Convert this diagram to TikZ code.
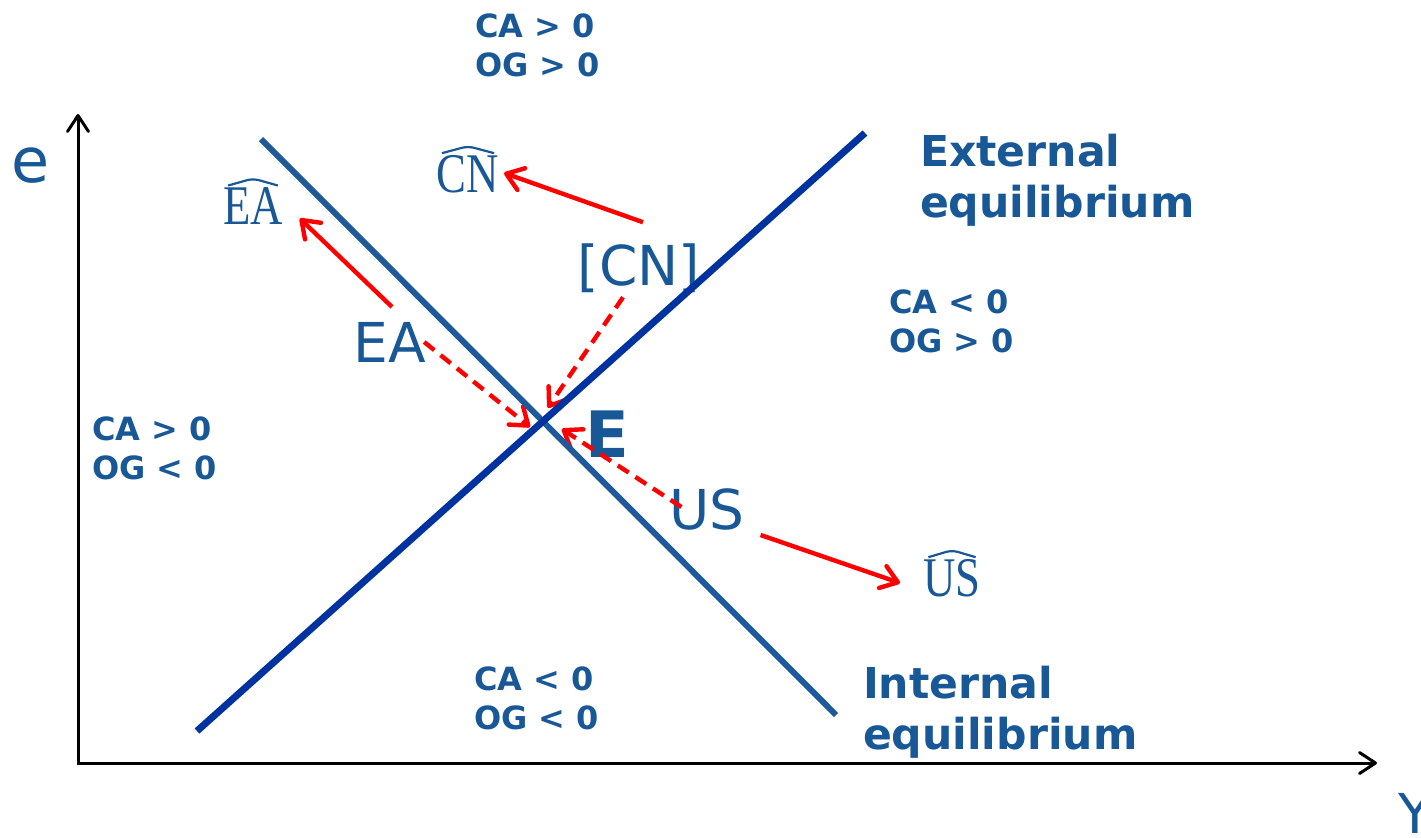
\documentclass[tikz,border=0pt]{standalone}
\usepackage{fontspec}
\setmainfont{DejaVu Sans}
\newfontfamily\hatfont{Liberation Serif}
\usetikzlibrary{arrows.meta,intersections}
\definecolor{txtblue}{RGB}{25,88,150}
\definecolor{intblue}{RGB}{30,90,155}
\definecolor{extblue}{RGB}{0,51,160}
\definecolor{arrred}{RGB}{255,0,0}
\begin{document}
\begin{tikzpicture}[x=0.5pt,y=-0.5pt,
  every node/.style={inner sep=0pt, outer sep=0pt, text=txtblue},
  quad/.style={font=\bfseries\fontsize{16}{19.5}\selectfont, align=left, anchor=north west},
  eqlabel/.style={font=\bfseries\fontsize{21.3}{25.5}\selectfont, align=left, anchor=north west},
  biglabel/.style={font=\fontsize{27.5}{33}\selectfont},
  hatlabel/.style={font=\hatfont\fontsize{28}{33}\selectfont},
  hatline/.style={draw=txtblue, line width=1.1pt, line join=round, rounded corners=3pt},
  axisline/.style={draw=black, line width=1.5pt,
    {Straight Barb[round,length=8pt,width=10.5pt]}-{Straight Barb[round,length=8pt,width=10.5pt]}},
  intline/.style={draw=intblue, line width=3pt},
  extline/.style={draw=extblue, line width=3.5pt},
  redsolid/.style={draw=arrred, line width=2.2pt, -{Straight Barb[round,length=8pt,width=11.5pt]}},
  reddash/.style={redsolid, dash pattern=on 6.5pt off 4pt}
]
\useasboundingbox (0,0) rectangle (1421,837);

% axes
\coordinate (O) at (78,763);
\coordinate (ytop) at (78,114);
\coordinate (xend) at (1377,763);
\draw[axisline] (ytop) -- (O) -- (xend);

% equilibrium lines (paths)
\coordinate (i1) at (261,139);
\coordinate (i2) at (836,715);
\coordinate (x1) at (197,731);
\coordinate (x2) at (865,133);
\path[name path=int] (i1) -- (i2);
\path[name path=ext] (x1) -- (x2);
\path[name intersections={of=int and ext, by=Ept}];

% labels
\node[font=\fontsize{31}{36}\selectfont] (elabel) at (31,166) {e};
\node[biglabel, anchor=north west] (ylab) at (1398,793) {Y};

\node[quad] (q1) at (475,14) {CA > 0\\OG > 0};
\node[quad] (q2) at (889,290) {CA < 0\\OG > 0};
\node[quad] (q3) at (92,417) {CA > 0\\OG < 0};
\node[quad] (q4) at (474,667) {CA < 0\\OG < 0};

\node[eqlabel] (extlab) at (920,134) {External\\equilibrium};
\node[eqlabel] (intlab) at (863,666) {Internal\\equilibrium};

\node[biglabel] (ea) at (390,342) {EA};
\node[biglabel, anchor=base] (cn) at (639,285) {[CN]};
\node[biglabel] (us) at (707,509) {US};
\node[font=\bfseries\fontsize{32}{38}\selectfont] (elab) at (607,434) {E};

\node[hatlabel] (cnh) at (468,174) {\scalebox{0.8}[1]{CN}};
\node[hatlabel] (eah) at (253,206) {\scalebox{0.8}[1]{EA}};
\node[hatlabel] (ush) at (952,578) {\scalebox{0.8}[1]{US}};

\draw[hatline] ([xshift=2.5pt,yshift=1pt]cnh.north west) -- ([yshift=4.5pt]cnh.north) -- ([xshift=-2.5pt,yshift=1pt]cnh.north east);
\draw[hatline] ([xshift=2.5pt,yshift=1pt]eah.north west) -- ([yshift=4.5pt]eah.north) -- ([xshift=-2.5pt,yshift=1pt]eah.north east);
\draw[hatline] ([xshift=2.5pt,yshift=1pt]ush.north west) -- ([yshift=4.5pt]ush.north) -- ([xshift=-2.5pt,yshift=1pt]ush.north east);

% red arrows
\draw[redsolid] ([xshift=1pt,yshift=7.5pt]ea.north) -- ([xshift=8.5pt,yshift=3pt]eah.south east);
\draw[redsolid] ([xshift=2pt,yshift=10.5pt]cn.north) -- ([xshift=2.5pt,yshift=0.5pt]cnh.east);
\draw[redsolid] ([xshift=8pt,yshift=-2.6pt]us.south east) -- ([xshift=-11.7pt,yshift=-2.5pt]ush.west);
\draw[reddash] ([xshift=-1pt]ea.east) -- ([xshift=-6.4pt,yshift=-2.8pt]Ept);
\draw[reddash] ([xshift=-8pt,yshift=-2.5pt]cn.south) -- ([xshift=2.5pt,yshift=6.8pt]Ept);
\draw[reddash] ([xshift=6pt,yshift=1pt]us.west) -- ([xshift=9.5pt,yshift=-3.8pt]Ept);

% equilibrium lines drawn
\draw[intline] (i1) -- (i2);
\draw[extline] (x1) -- (x2);
\end{tikzpicture}
\end{document}
